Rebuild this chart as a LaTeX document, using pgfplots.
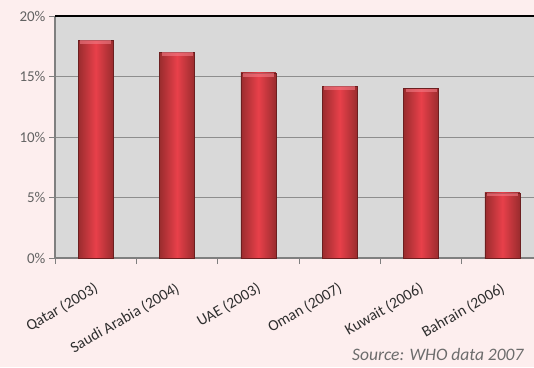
\documentclass[border=0pt]{standalone}
\usepackage{pgfplots}
\pgfplotsset{compat=1.18}
\usepackage{fontspec}
\setmainfont{Carlito}
\definecolor{pagebg}{HTML}{FDEEEE}
\definecolor{plotbg}{HTML}{D9D9D9}
\definecolor{gridc}{HTML}{8E8E8E}
\definecolor{axisc}{HTML}{7F7F7F}
\definecolor{labc}{HTML}{2E2E2E}
\definecolor{barmid}{HTML}{E8404A}
\definecolor{baredge}{HTML}{9A2C2E}
\definecolor{capc}{HTML}{F27C86}

\pgfplotsset{
  redbar/.style={ybar, bar width=35pt, bar shift=0pt,
    draw=baredge!70!black, line width=0.3pt,
    left color=baredge, right color=baredge, middle color=barmid,
    error bars/.cd, y dir=minus, y fixed=0.3,
    error bar style={line width=31pt, capc, opacity=0.6},
    error mark=none},
}

\begin{document}
\begin{tikzpicture}[x=1pt,y=1pt]
  \useasboundingbox (0,0) rectangle (534,367);
  \fill[pagebg] (0,0) rectangle (534,367);
  \clip (0,0) rectangle (534,367);
  \begin{axis}[
    at={(55pt,109pt)}, anchor=south west,
    scale only axis, width=488pt, height=242pt,
    xmin=-0.5, xmax=5.5, ymin=0, ymax=20,
    axis background/.style={fill=plotbg},
    axis x line*=bottom, axis y line*=left,
    axis line style={axisc, line width=1.2pt},
    ytick={0,5,10,15,20},
    yticklabel={\pgfmathprintnumber{\tick}\%},
    ymajorgrids, grid style={gridc, line width=0.9pt},
    xtick={-0.5,0.5,1.5,2.5,3.5,4.5},
    xticklabels={},
    extra x ticks={0,1,2,3,4,5},
    extra x tick labels={Qatar (2003),Saudi Arabia (2004),UAE (2003),Oman (2007),Kuwait (2006),Bahrain (2006)},
    extra x tick style={major tick length=0pt, grid=none,
      tick label style={xshift=-1pt, yshift=-19pt, rotate=30, anchor=north east,
        font=\fontsize{15.5}{18}\selectfont, text=labc}},
    major tick length=6pt,
    tick style={axisc, line width=0.8pt},
    xtick pos=bottom, ytick pos=left,
    tick align=outside,
    y tick label style={font=\fontsize{15}{17}\selectfont, text=labc!75!white,
      /pgf/number format/assume math mode=true},
    clip=false,
  ]
    % one path per bar so each gets its own shading
    \addplot[redbar] coordinates {(0,18.0)};
    \addplot[redbar] coordinates {(1,17.0)};
    \addplot[redbar] coordinates {(2,15.3)};
    \addplot[redbar] coordinates {(3,14.2)};
    \addplot[redbar] coordinates {(4,14.0)};
    \addplot[redbar] coordinates {(5,5.4)};
    \draw[black, line width=1.2pt] (axis cs:-0.5,20) -- (axis cs:5.5,20);
  \end{axis}
  \node[anchor=base east, font=\itshape\fontsize{17.5}{20}\selectfont, text=gray!85!black]
    at (527,7) {Source: WHO data 2007};
\end{tikzpicture}
\end{document}
